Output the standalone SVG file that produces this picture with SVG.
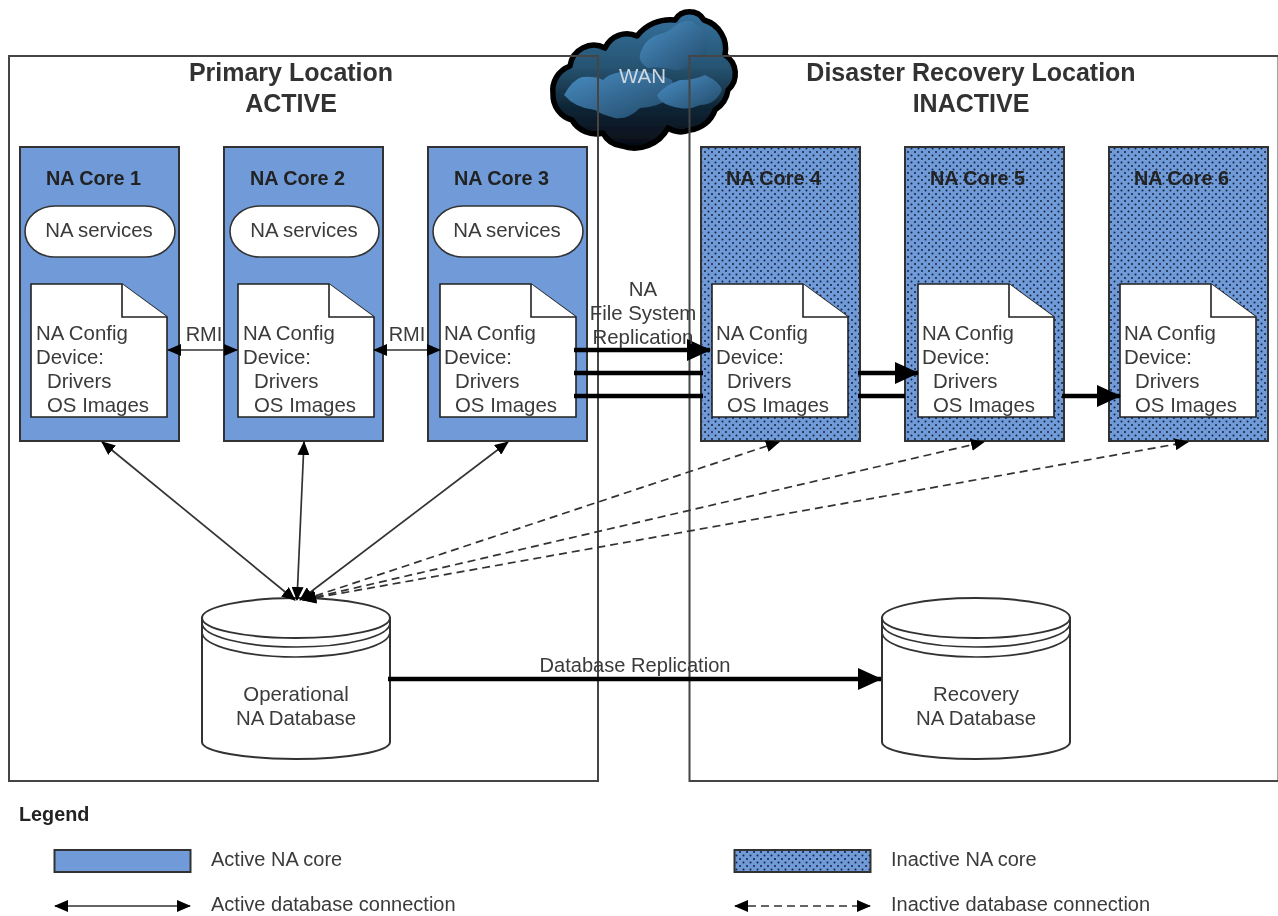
<svg xmlns="http://www.w3.org/2000/svg" width="1278" height="916" viewBox="0 0 1278 916">
<style>
text{font-family:"Liberation Sans",Arial,sans-serif;font-size:20.400px;fill:#3a3a3a}
.b{font-weight:bold;font-size:19.800px;fill:#222}
.t{font-weight:bold;font-size:25px;text-anchor:middle;fill:#333}
.m{text-anchor:middle}
.loc{fill:none;stroke:#444;stroke-width:2}
.act{fill:#6f9bd8;stroke:#333;stroke-width:2}
.ina{fill:url(#dots);stroke:#333;stroke-width:2}
.pill{fill:#fff;stroke:#333;stroke-width:1.600}
.doc{fill:#fff;stroke:#222;stroke-width:1.600}
.db{fill:#fff;stroke:#333;stroke-width:2}
.thin{fill:none;stroke:#333;stroke-width:1.700}
.dash{fill:none;stroke:#333;stroke-width:1.700;stroke-dasharray:8 5}
.fat{fill:none;stroke:#000;stroke-width:4.500}
.lg{font-size:20px}
</style>
<defs>
<filter id="soft" filterUnits="userSpaceOnUse" x="0" y="0" width="1278" height="916"><feGaussianBlur stdDeviation="0.5"/></filter>
<pattern id="dots" width="7" height="7" patternUnits="userSpaceOnUse">
<rect width="7" height="7" fill="#6f9bd8"/>
<circle cx="1.500" cy="1.500" r="1" fill="#14203a"/>
<circle cx="5" cy="5" r="1" fill="#14203a"/>
</pattern>
<linearGradient id="cloud" x1="0" y1="0" x2="0" y2="1">
<stop offset="0" stop-color="#35729f"/><stop offset="0.4" stop-color="#275472"/><stop offset="0.7" stop-color="#0f2536"/><stop offset="1" stop-color="#050c14"/>
</linearGradient>
<linearGradient id="puff" x1="0" y1="0" x2="1" y2="1">
<stop offset="0" stop-color="#4a90c8"/><stop offset="1" stop-color="#234a68"/>
</linearGradient>
<marker id="ah" markerWidth="14" markerHeight="12" refX="13" refY="6" orient="auto-start-reverse" markerUnits="userSpaceOnUse"><path d="M0 0L14 6L0 12z" fill="#000"/></marker>
<marker id="fh" markerWidth="24" markerHeight="22" refX="23" refY="11" orient="auto" markerUnits="userSpaceOnUse"><path d="M0 0L24 11L0 22z" fill="#000"/></marker>
</defs>
<g filter="url(#soft)">
<g id="wan">
<path d="M553 94A26 26 0 0 1 570 66A24 24 0 0 1 605 48A24 24 0 0 1 637 36A42 42 0 0 1 675 20A17 17 0 0 1 704 20A30 30 0 0 1 725 55A22 22 0 0 1 728 90A28 28 0 0 1 715 110A30 30 0 0 1 690 130A24 24 0 0 1 668 128A38 38 0 0 1 622 146A24 24 0 0 1 603 133A28 28 0 0 1 572 120A26 26 0 0 1 553 94Z" fill="url(#cloud)" stroke="#000" stroke-width="5.500" stroke-linejoin="round"/>
<path d="M564 95Q572 80 582 77Q596 76 603 80Q612 70 640 71Q660 74 672 80L676 96Q655 108 640 108Q628 120 615 118Q600 114 595 110Q575 108 564 95Z" fill="url(#puff)" opacity=".95"/>
<path d="M640 54Q645 38 660 34Q668 32 672 28Q688 16 695 24Q706 28 707 44Q710 55 695 62Q680 72 675 70Q660 66 648 68Q638 62 640 54Z" fill="url(#puff)"/>
<path d="M657 95Q665 85 680 80Q695 80 705 75Q720 82 722 90Q715 105 700 105Q690 110 680 108Q660 105 657 95Z" fill="url(#puff)"/>
</g>

<g id="primary-location">
<rect class="loc" x="9" y="56" width="589" height="725"/>
<text class="t" x="291" y="81">Primary Location</text>
<text class="t" x="291" y="112">ACTIVE</text>
</g>
<g id="dr-location">
<rect class="loc" x="689.500" y="56" width="589" height="725"/>
<text class="t" x="971" y="81">Disaster Recovery Location</text>
<text class="t" x="971" y="112">INACTIVE</text>
</g>
<text x="619" y="83" style="fill:#cfd8e0;font-size:20.500px">WAN</text>

<g id="core1"><rect class="act" x="20" y="147" width="159" height="294"/><text class="b" x="46" y="185">NA Core 1</text>
<rect class="pill" x="25" y="206" width="150" height="51" rx="30" ry="25.500"/><text class="m" x="99" y="237">NA services</text>
<path class="doc" d="M31 284H122L167 317V417H31Z"/><path class="doc" d="M122 284V317H167"/>
<text x="36" y="340">NA Config</text><text x="36" y="364">Device:</text><text x="47" y="388">Drivers</text><text x="47" y="412">OS Images</text></g>

<g id="core2"><rect class="act" x="224" y="147" width="159" height="294"/><text class="b" x="250" y="185">NA Core 2</text>
<rect class="pill" x="230" y="206" width="149" height="51" rx="30" ry="25.500"/><text class="m" x="304" y="237">NA services</text>
<path class="doc" d="M238 284H329L374 317V417H238Z"/><path class="doc" d="M329 284V317H374"/>
<text x="243" y="340">NA Config</text><text x="243" y="364">Device:</text><text x="254" y="388">Drivers</text><text x="254" y="412">OS Images</text></g>

<g id="core3"><rect class="act" x="428" y="147" width="159" height="294"/><text class="b" x="454" y="185">NA Core 3</text>
<rect class="pill" x="433" y="206" width="150" height="51" rx="30" ry="25.500"/><text class="m" x="507" y="237">NA services</text>
<path class="doc" d="M440 284H531L576 317V417H440Z"/><path class="doc" d="M531 284V317H576"/>
<text x="444" y="340">NA Config</text><text x="444" y="364">Device:</text><text x="455" y="388">Drivers</text><text x="455" y="412">OS Images</text></g>

<g id="core4"><rect class="ina" x="701" y="147" width="159" height="294"/><text class="b" x="726" y="185">NA Core 4</text>
<path class="doc" d="M712 284H803L848 317V417H712Z"/><path class="doc" d="M803 284V317H848"/>
<text x="716" y="340">NA Config</text><text x="716" y="364">Device:</text><text x="727" y="388">Drivers</text><text x="727" y="412">OS Images</text></g>

<g id="core5"><rect class="ina" x="905" y="147" width="159" height="294"/><text class="b" x="930" y="185">NA Core 5</text>
<path class="doc" d="M918 284H1009L1054 317V417H918Z"/><path class="doc" d="M1009 284V317H1054"/>
<text x="922" y="340">NA Config</text><text x="922" y="364">Device:</text><text x="933" y="388">Drivers</text><text x="933" y="412">OS Images</text></g>

<g id="core6"><rect class="ina" x="1109" y="147" width="159" height="294"/><text class="b" x="1134" y="185">NA Core 6</text>
<path class="doc" d="M1120 284H1211L1256 317V417H1120Z"/><path class="doc" d="M1211 284V317H1256"/>
<text x="1124" y="340">NA Config</text><text x="1124" y="364">Device:</text><text x="1135" y="388">Drivers</text><text x="1135" y="412">OS Images</text></g>

<g id="db-operational">
<path class="db" d="M202 618V742A94 17 0 0 0 390 742V618Z"/>
<ellipse class="db" cx="296" cy="618" rx="94" ry="20"/>
<path class="thin" d="M202 623A94 24 0 0 0 390 623M202 632A94 25 0 0 0 390 632"/>
<text class="m" x="296" y="701">Operational</text><text class="m" x="296" y="725">NA Database</text>
</g>
<g id="db-recovery">
<path class="db" d="M882 618V742A94 17 0 0 0 1070 742V618Z"/>
<ellipse class="db" cx="976" cy="618" rx="94" ry="20"/>
<path class="thin" d="M882 623A94 24 0 0 0 1070 623M882 632A94 25 0 0 0 1070 632"/>
<text class="m" x="976" y="701">Recovery</text><text class="m" x="976" y="725">NA Database</text>
</g>

<g id="connectors">
<path class="thin" d="M168 350H237" marker-start="url(#ah)" marker-end="url(#ah)"/>
<path class="thin" d="M374 350H440" marker-start="url(#ah)" marker-end="url(#ah)"/>
<path class="thin" d="M295 600L102 442" marker-start="url(#ah)" marker-end="url(#ah)"/>
<path class="thin" d="M297 600L304 442" marker-start="url(#ah)" marker-end="url(#ah)"/>
<path class="thin" d="M300 600L508 442" marker-start="url(#ah)" marker-end="url(#ah)"/>
<path class="dash" d="M303 600L779 442" marker-start="url(#ah)" marker-end="url(#ah)"/>
<path class="dash" d="M303 600L984 442" marker-start="url(#ah)" marker-end="url(#ah)"/>
<path class="dash" d="M303 600L1188 442" marker-start="url(#ah)" marker-end="url(#ah)"/>
<path class="fat" d="M574 350H710" marker-end="url(#fh)"/>
<path class="fat" d="M574 373H703"/>
<path class="fat" d="M574 396H703"/>
<path class="fat" d="M858 373H918" marker-end="url(#fh)"/>
<path class="fat" d="M858 396H905"/>
<path class="fat" d="M1062 396H1120" marker-end="url(#fh)"/>
<path class="fat" d="M388 679H881" marker-end="url(#fh)"/>
</g>
<text class="m" x="204" y="341" style="font-size:20px">RMI</text>
<text class="m" x="407" y="341" style="font-size:20px">RMI</text>
<text class="m" x="643" y="296">NA</text>
<text class="m" x="643" y="320">File System</text>
<text class="m" x="643" y="344">Replication</text>
<text class="m" x="635" y="672" style="font-size:20.100px">Database Replication</text>

<g id="legend">
<text class="b" x="19" y="821">Legend</text>
<rect class="act" x="54.500" y="850" width="136" height="22"/>
<text class="lg" x="211" y="866">Active NA core</text>
<rect class="ina" x="734.500" y="850" width="136" height="22"/>
<text class="lg" x="891" y="866">Inactive NA core</text>
<path class="thin" d="M55 906H190" marker-start="url(#ah)" marker-end="url(#ah)"/>
<text class="lg" x="211" y="911">Active database connection</text>
<path class="dash" d="M735 906H870" marker-start="url(#ah)" marker-end="url(#ah)"/>
<text class="lg" x="891" y="911">Inactive database connection</text>
</g>
</g>
</svg>
